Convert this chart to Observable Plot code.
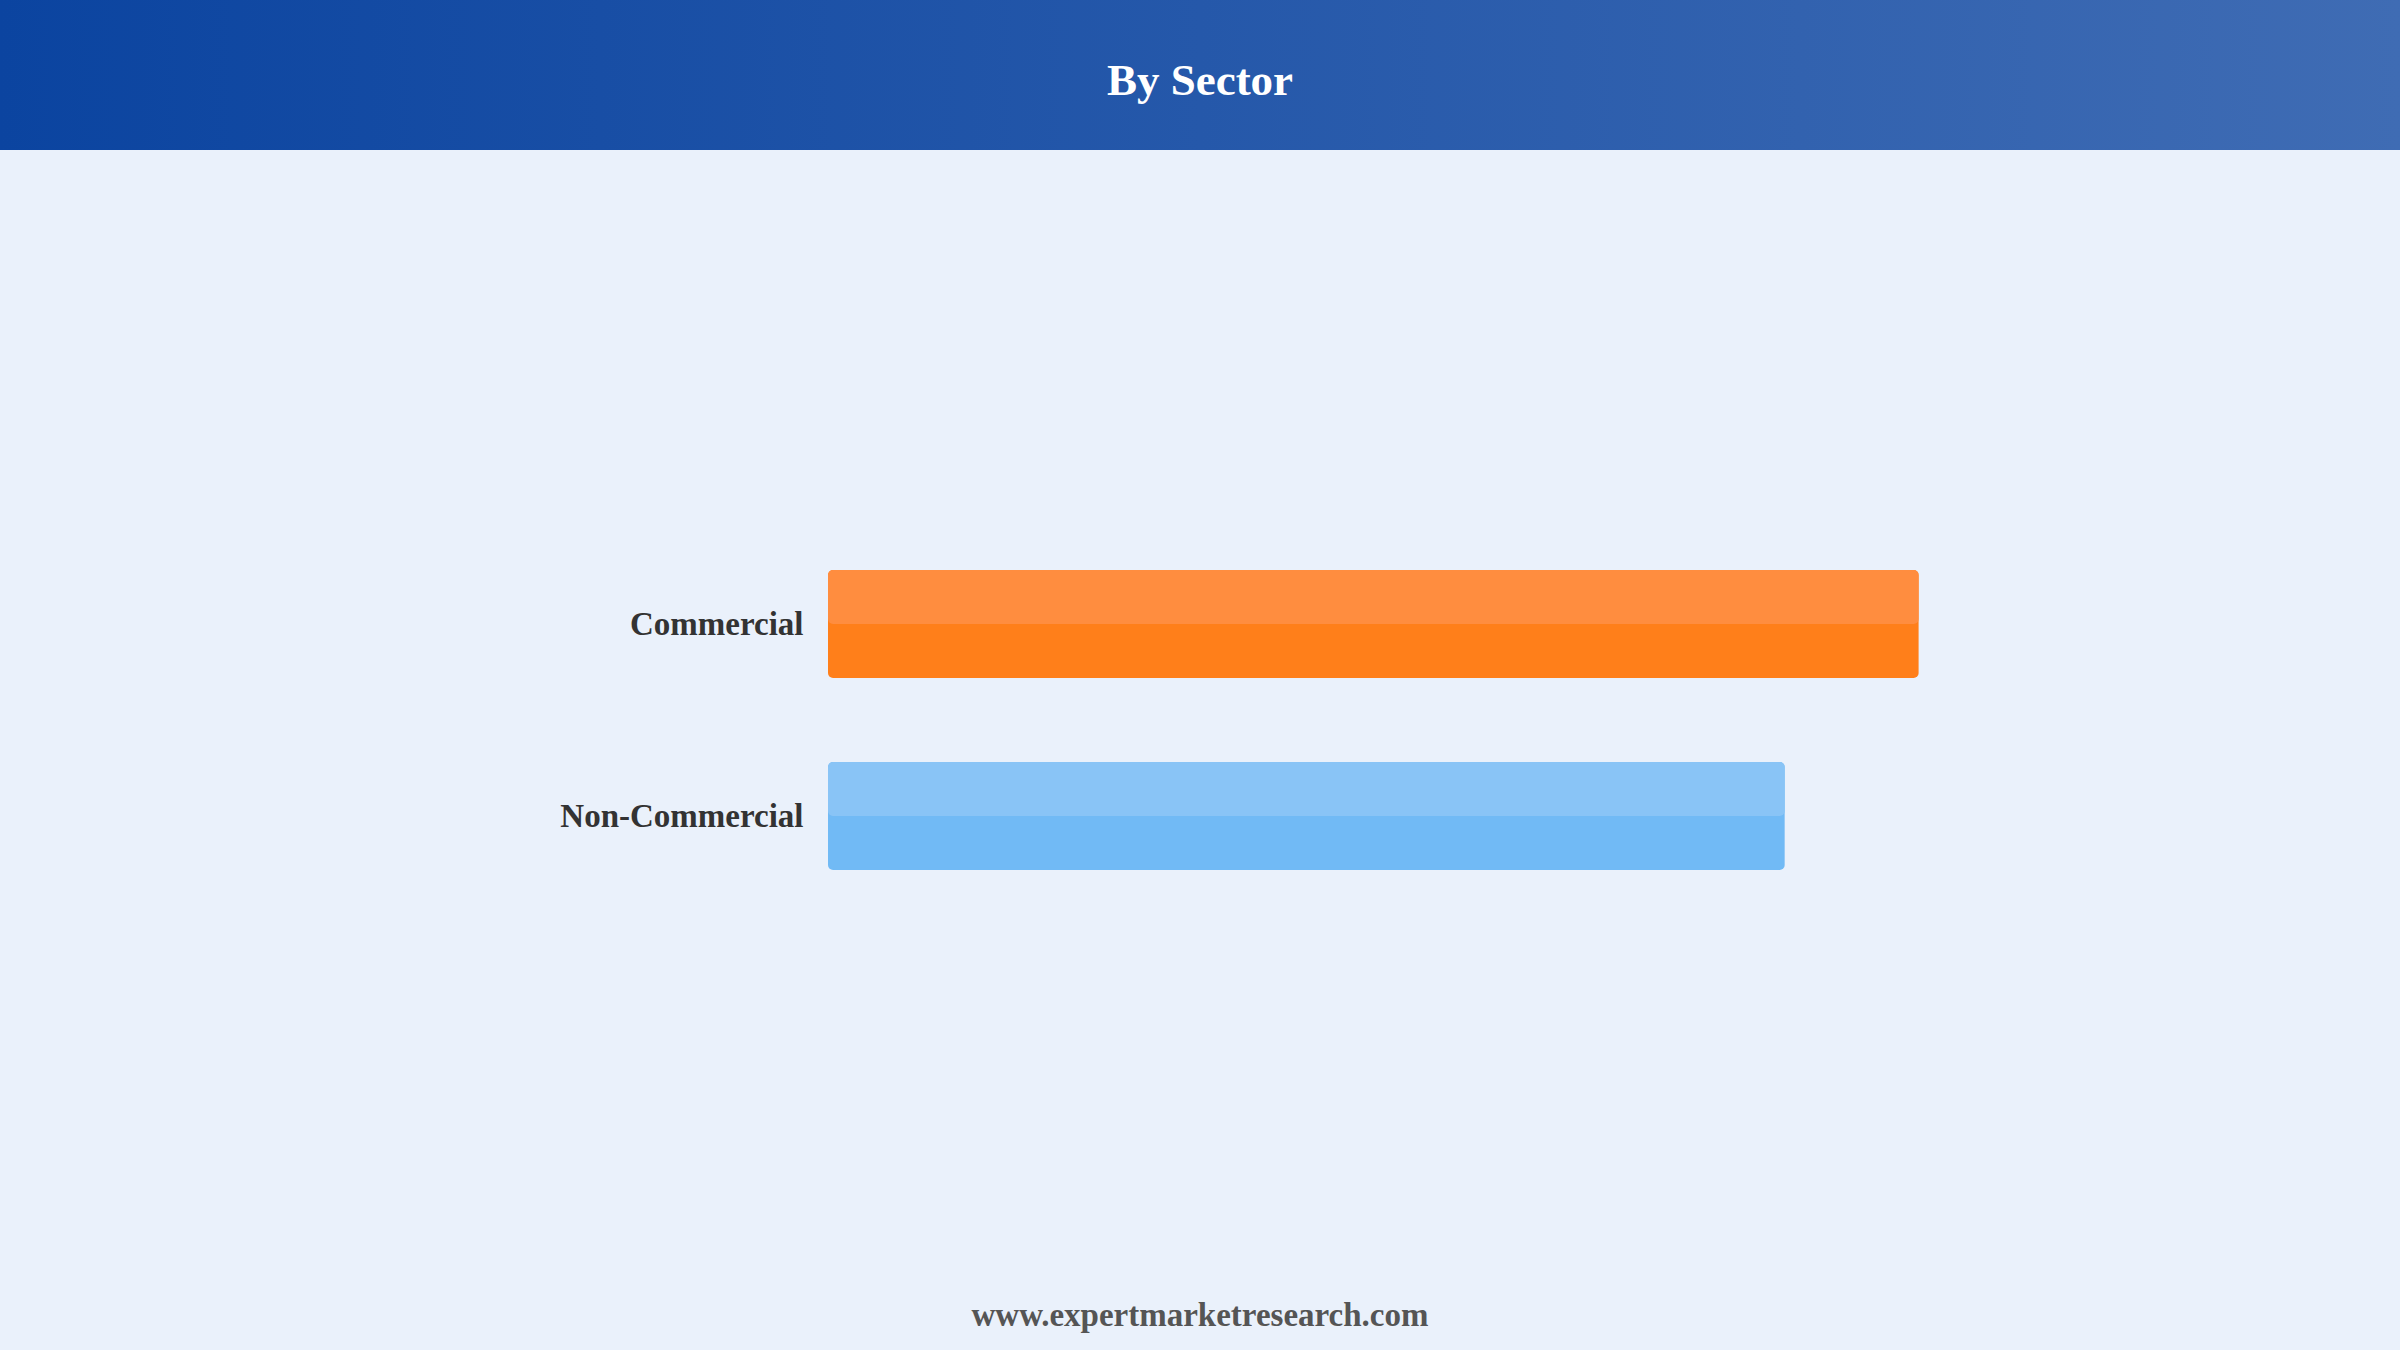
<!DOCTYPE html>
<html>
<head>
<meta charset="utf-8">
<script src="https://cdn.jsdelivr.net/npm/d3@7"></script>
<script src="https://cdn.jsdelivr.net/npm/@observablehq/plot@0.6"></script>
<style>
  html, body { margin: 0; padding: 0; }
  body { width: 2400px; height: 1350px; background: #EAF1FB; position: relative; overflow: hidden;
         font-family: "Liberation Serif", "Times New Roman", serif; }
  #header { position: absolute; left: 0; top: 0; width: 2400px; height: 150px;
            background: linear-gradient(to right, #0B44A0, #3F6CB4); }
  #title { position: absolute; left: 0; width: 2400px; top: 0; height: 150px; line-height: 160px;
           text-align: center; color: #fff; font-weight: bold; font-size: 45px; }
  #chart { position: absolute; left: 0; top: 150px; }
  #footer { position: absolute; left: 0; width: 2400px; top: 1297px; text-align: center;
            color: #555; font-weight: bold; font-size: 33px; }
</style>
</head>
<body>
<div id="header"><div id="title">By Sector</div></div>
<div id="chart"></div>
<div id="footer">www.expertmarketresearch.com</div>
<script>
const categories = ["Commercial", "Non-Commercial"];
const values = [57, 50];
const baseColors = ["#FF7F1A", "#71BAF5"];
const topColors = ["#FF8D3F", "#89C4F6"];

const data = categories.map((c, i) => ({category: c, value: values[i], base: baseColors[i], top: topColors[i]}));

const chart = Plot.plot({
  width: 2400,
  height: 1100,
  marginLeft: 828,
  marginRight: 424,
  marginTop: 336,
  marginBottom: 296,
  style: {background: "transparent", fontFamily: "'Liberation Serif', 'Times New Roman', serif"},
  x: {domain: [0, 60], axis: null},
  y: {domain: categories, padding: 0.4375, label: null},
  marks: [
    Plot.barX(data, {x: "value", y: "category", fill: "base", rx: 5}),
    Plot.barX(data, {x: "value", y: "category", fill: "top", rx: 5, insetBottom: 54}),
    Plot.axisY({tickSize: 0, tickPadding: 25, fontSize: 33, fontWeight: "bold", fill: "#333", label: null})
  ]
});
document.getElementById("chart").appendChild(chart);
</script>
</body>
</html>
